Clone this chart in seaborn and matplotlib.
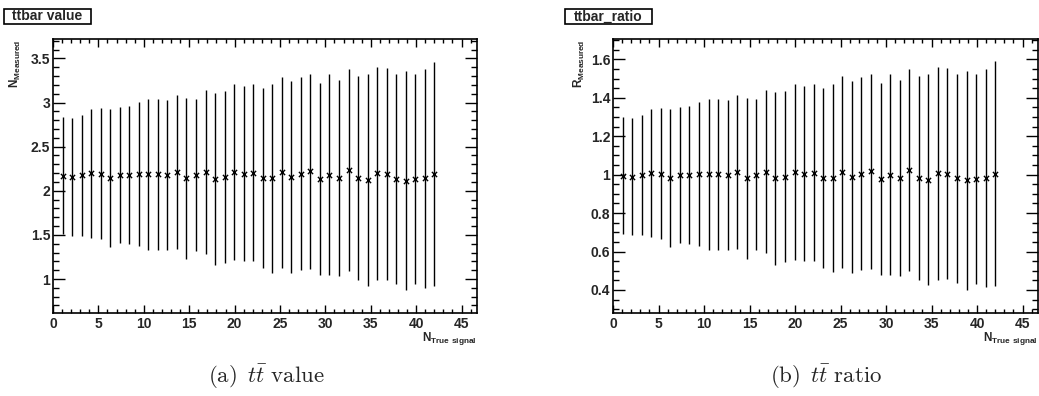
import numpy as np
import pandas as pd
import matplotlib.pyplot as plt
import seaborn as sns
from matplotlib.ticker import MultipleLocator, FormatStrFormatter
from matplotlib.patches import Rectangle

# Measured points (x = true signal count)
n_true = [1.05, 2.1, 3.15, 4.2, 5.25, 6.3, 7.35, 8.4, 9.45, 10.5,
          11.55, 12.6, 13.65, 14.7, 15.75, 16.8, 17.85, 18.9, 19.95, 21.0,
          22.05, 23.1, 24.15, 25.2, 26.25, 27.3, 28.35, 29.4, 30.45, 31.5,
          32.55, 33.6, 34.65, 35.7, 36.75, 37.8, 38.85, 39.9, 40.95, 42.0]

value = [2.170, 2.159, 2.174, 2.197, 2.193, 2.140, 2.181, 2.178, 2.189, 2.185,
         2.185, 2.181, 2.215, 2.140, 2.181, 2.212, 2.136, 2.159, 2.212, 2.193,
         2.204, 2.140, 2.140, 2.208, 2.159, 2.193, 2.219, 2.129, 2.181, 2.144,
         2.234, 2.144, 2.121, 2.197, 2.189, 2.136, 2.114, 2.129, 2.140, 2.193]
value_err = [0.661, 0.667, 0.682, 0.731, 0.742, 0.782, 0.772, 0.785, 0.819, 0.857,
             0.855, 0.852, 0.874, 0.914, 0.859, 0.925, 0.976, 0.974, 0.997, 0.991,
             1.004, 1.020, 1.070, 1.085, 1.089, 1.091, 1.106, 1.087, 1.140, 1.112,
             1.146, 1.159, 1.197, 1.208, 1.197, 1.189, 1.242, 1.189, 1.238, 1.272]

ratio = [0.995, 0.990, 0.997, 1.008, 1.006, 0.982, 1.000, 0.999, 1.004, 1.002,
         1.002, 1.000, 1.016, 0.982, 1.000, 1.015, 0.980, 0.990, 1.015, 1.006,
         1.011, 0.982, 0.982, 1.013, 0.990, 1.006, 1.018, 0.977, 1.000, 0.983,
         1.025, 0.983, 0.973, 1.008, 1.004, 0.980, 0.970, 0.977, 0.982, 1.006]
ratio_err = [0.303, 0.306, 0.313, 0.335, 0.340, 0.359, 0.354, 0.360, 0.376, 0.393,
             0.392, 0.391, 0.401, 0.419, 0.394, 0.424, 0.448, 0.447, 0.457, 0.455,
             0.461, 0.468, 0.491, 0.498, 0.500, 0.500, 0.507, 0.499, 0.523, 0.510,
             0.526, 0.532, 0.549, 0.554, 0.549, 0.545, 0.570, 0.545, 0.568, 0.583]

sns.set_style("ticks")
plt.rcParams["font.family"] = ["Liberation Sans", "DejaVu Sans"]
plt.rcParams["font.weight"] = "bold"
plt.rcParams["mathtext.fontset"] = "custom"
plt.rcParams["mathtext.bf"] = "Liberation Sans:bold"
plt.rcParams["mathtext.rm"] = "Liberation Sans:bold"

W, H = 1039, 396
fig = plt.figure(figsize=(W / 100, H / 100), dpi=100)
ax1 = fig.add_axes([53 / W, (H - 313) / H, 424 / W, 274 / H])
ax2 = fig.add_axes([613 / W, (H - 313) / H, 425 / W, 274 / H])

panels = [
    (ax1, value, value_err, (0.615, 3.72), 0.5, 0.1, "N", "ttbar value", 47.5, -0.07),
    (ax2, ratio, ratio_err, (0.28, 1.706), 0.2, 0.05, "R", "ttbar_ratio", 608.5, -0.061),
]

for ax, y, yerr, ylim, ymaj, ymin, sym, title, tx, lx in panels:
    df = pd.DataFrame({"x": n_true, "y": y, "err": yerr})
    ax.errorbar(df["x"], df["y"], yerr=df["err"], fmt="none", ecolor="black",
                elinewidth=1, capsize=0)
    sns.scatterplot(data=df, x="x", y="y", ax=ax, marker="x", color="black",
                    s=14, linewidth=1, zorder=3)
    ax.set_xlim(0, 46.7)
    ax.set_ylim(*ylim)
    ax.xaxis.set_major_locator(MultipleLocator(5))
    ax.xaxis.set_minor_locator(MultipleLocator(1))
    ax.yaxis.set_major_locator(MultipleLocator(ymaj))
    ax.yaxis.set_minor_locator(MultipleLocator(ymin))
    ax.xaxis.set_major_formatter(FormatStrFormatter("%g"))
    ax.yaxis.set_major_formatter(FormatStrFormatter("%g"))
    ax.tick_params(which="both", direction="in", top=True, right=True,
                   width=1, color="black", labelsize=10)
    ax.tick_params(axis="x", which="major", length=5.8, pad=3)
    ax.tick_params(axis="x", which="minor", length=2.9)
    ax.tick_params(axis="y", which="major", length=8.6, pad=2)
    ax.tick_params(axis="y", which="minor", length=4.3)
    for sp in ax.spines.values():
        sp.set_linewidth(1.2)
        sp.set_color("black")
    ax.set_xlabel(r"$\mathbf{N}_{\mathbf{True\ signal}}$", fontsize=8.5, loc="right")
    ax.xaxis.set_label_coords(1.0, -0.063)
    ax.set_ylabel(r"$\mathbf{%s}_{\mathbf{Measured}}$" % sym, fontsize=8.5, loc="top")
    ax.yaxis.set_label_coords(lx, 1.0)

    # title box in the top-left corner of each pad
    fig.patches.append(Rectangle(((tx - 43.5) / W, 1 - 24 / H), 87 / W, 15 / H,
                                 transform=fig.transFigure, facecolor="white",
                                 edgecolor="black", linewidth=1.2))
    fig.text(tx / W, 1 - 16.5 / H, title, ha="center", va="center",
             fontsize=10, fontweight="bold")

caps = [(266, r"$\mathrm{(a)}\ \,t\bar{t}\ \mathrm{value}$"),
        (826, r"$\mathrm{(b)}\ \,t\bar{t}\ \mathrm{ratio}$")]
for cx, txt in caps:
    fig.text(cx / W, 1 - 377 / H, txt, ha="center", va="center", fontsize=16.5,
             math_fontfamily="cm")

fig.savefig("out.png", dpi=100)
